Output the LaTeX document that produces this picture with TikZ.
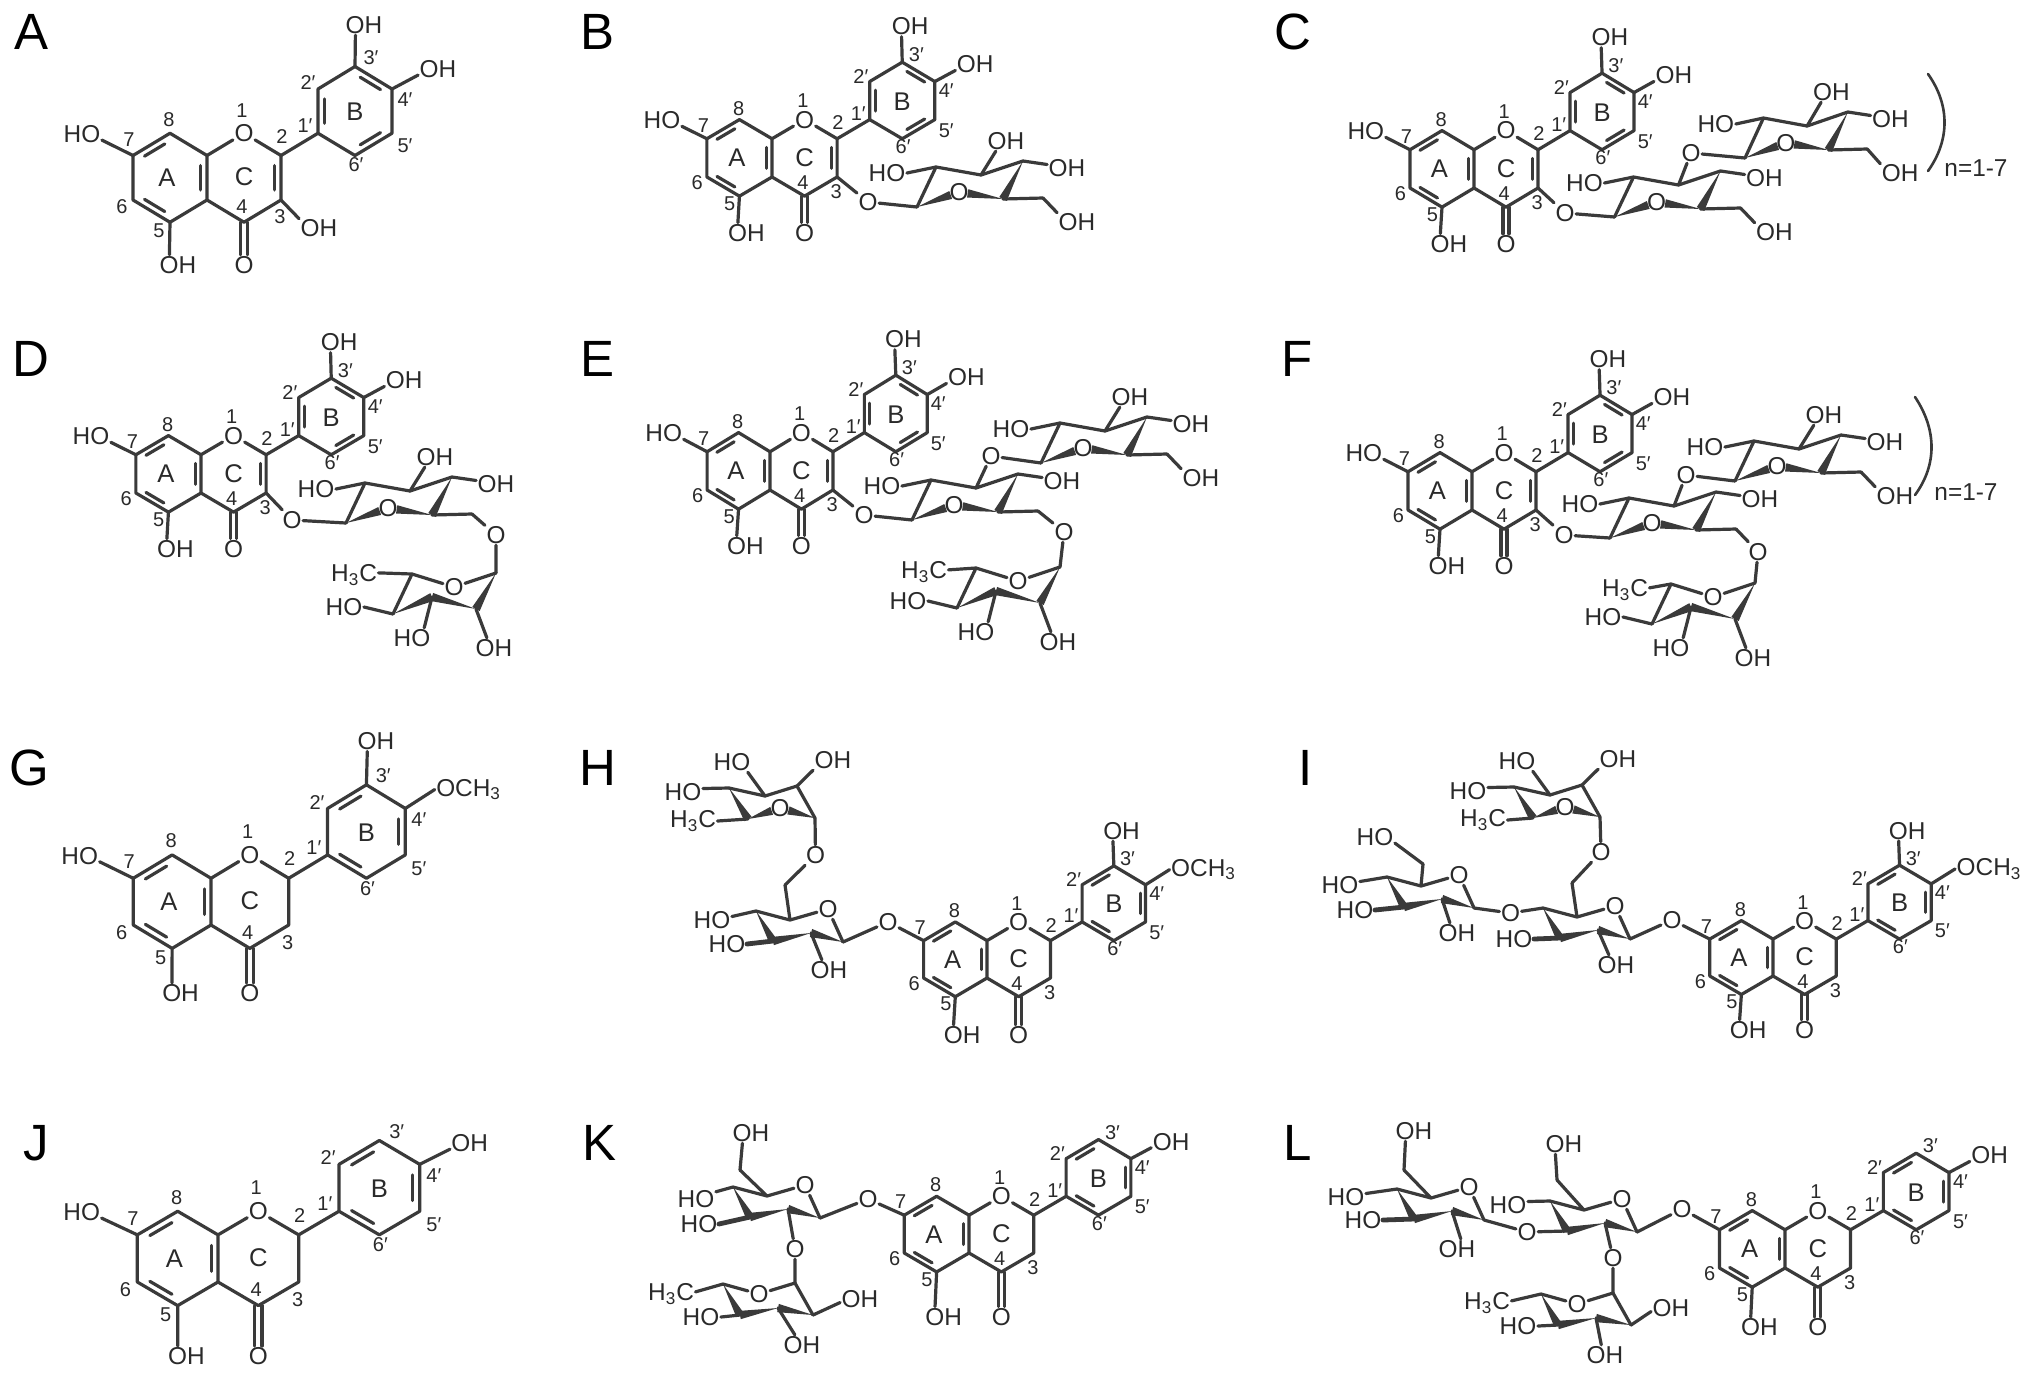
\documentclass[tikz,border=0pt]{standalone}
\usepackage{fontspec}
\setmainfont{Liberation Sans}
\usetikzlibrary{calc}
\definecolor{bondc}{HTML}{3A3A3A}
\definecolor{txtc}{HTML}{2A2A2A}
\tikzset{
 bond/.style={draw=bondc,line width=1.6pt,line cap=round,line join=round},
 thickb/.style={draw=bondc,line width=2.4pt,line cap=round},
 paren/.style={draw=bondc,line width=1.3pt,line cap=round},
 lab/.style={font=\fontsize{12.2}{14}\selectfont,text=txtc,inner sep=0.8pt,outer sep=0pt},
 num/.style={font=\fontsize{10}{11}\selectfont,text=txtc,inner sep=0pt},
 ringl/.style={font=\fontsize{12.8}{14}\selectfont,text=txtc,inner sep=0pt},
 pl/.style={font=\fontsize{25.5}{27}\selectfont,text=black,inner sep=0pt},
}
\newcommand\bd[5]{\node[lab] (#1) at (#2) {#3}; \draw[bond] (#4) -- (#1.#5);}
\newcommand\wdg[2]{\fill[bondc] (#1) -- ($(#2)!2.1pt!90:(#1)$) -- ($(#2)!2.1pt!-90:(#1)$) -- cycle;}
\newcommand\wdgO[2]{\coordinate (tmp#1) at ($(#2)!4.4pt!(#1)$); \wdg{#1}{tmp#1}}
\newcommand\dbl[3]{\draw[bond] ($(#1)!.17!(#2)!.17!(#3)$) -- ($(#2)!.17!(#1)!.17!(#3)$);}
\newcommand\lowy{65}
% flavonoid skeleton shared by all panels
\newcommand\flavgeom{%
 \coordinate (c4a) at (0,0); \coordinate (c8a) at (0,-44.5);
 \coordinate (c8) at (-37,-66.75); \coordinate (c7) at (-74,-44.5);
 \coordinate (c6) at (-74,0); \coordinate (c5) at (-37,22.25);
 \node[lab] (o1) at (37,-66.75) {O};
 \coordinate (c2) at (74,-44.5); \coordinate (c3) at (74,0); \coordinate (c4) at (37,22.25);
 \coordinate (c1p) at (111,-66.75); \coordinate (c2p) at (111,-111);
 \coordinate (c3p) at (148,-133.5); \coordinate (c4p) at (185,-111);
 \coordinate (c5p) at (185,-66.75); \coordinate (c6p) at (148,-44.5);
 \coordinate (ca) at (-37,-22.25); \coordinate (cc) at (37,-22.25); \coordinate (cb) at (148,-89);
 \draw[bond] (c4a)--(c8a)--(c8)--(c7)--(c6)--(c5)--(c4a)--(c4)--(c3)--(c2)--(o1)--(c8a);
 \draw[bond] (c2)--(c1p)--(c2p)--(c3p)--(c4p)--(c5p)--(c6p)--(c1p);
 \dbl{c7}{c8}{ca}\dbl{c5}{c6}{ca}\dbl{c4a}{c8a}{ca}
 \node[lab] (o4) at (37,\lowy) {O};
 \draw[bond] ([xshift=-1.7pt]c4) -- ([xshift=-1.7pt]o4.north);
 \draw[bond] ([xshift=1.7pt]c4) -- ([xshift=1.7pt]o4.north);
 \bd{oh5}{-29,\lowy}{OH}{c5}{130}
 \node[ringl] (la) at (-40,-22) {A}; \node[ringl] (lc) at (37,-23) {C}; \node[ringl] (lb) at (148,-88) {B};
 \node[num] (n1) at (35,-89) {1}; \node[num] (n8) at (-38,-80) {8};
 \node[num] (n7) at (-78,-60) {7}; \node[num] (n6) at (-85,7) {6};
 \node[num] (n5) at (-48,31) {5}; \node[num] (n4) at (35,7) {4};
 \node[num] (n3) at (73,17) {3}; \node[num] (n2) at (75,-63) {2};
 \node[num] (n1p) at (98,-74) {1′}; \node[num] (n2p) at (101,-117) {2′};
 \node[num] (n3p) at (164,-142) {3′}; \node[num] (n4p) at (198,-100) {4′};
 \node[num] (n5p) at (198,-54) {5′}; \node[num] (n6p) at (149,-35) {6′};
}
\newcommand\flavonol{\dbl{c2}{c3}{cc}\dbl{c1p}{c2p}{cb}\dbl{c3p}{c4p}{cb}\dbl{c5p}{c6p}{cb}}
\newcommand\flavanone{\dbl{c1p}{c6p}{cb}\dbl{c2p}{c3p}{cb}\dbl{c4p}{c5p}{cb}}
\newcommand\hoVII{\bd{ho7}{-125,-66}{HO}{c7}{343}}
\newcommand\ohIIIp{\bd{oh3p}{157,-175}{OH}{c3p}{230}}
\newcommand\ohIVp{\bd{oh4p}{231,-131}{OH}{c4p}{197}}
\newcommand\ochIVp{\node[lab,anchor=west] (och) at (213,-129) {OCH\textsubscript{3}}; \draw[bond] (c4p) -- (och.west);}
% glucose drawn to the right of its anomeric carbon
\newcommand\glcR{%
 \node[lab] (or) at (42,-15) {O};
 \coordinate (c1) at (0,0); \coordinate (c5) at (86,-8); \coordinate (c4) at (106,-46);
 \coordinate (c3) at (64,-32); \coordinate (c2) at (19,-40); \coordinate (c6) at (126,-9);
 \draw[bond] (c1)--(c2)--(c3)--(c4) (c5)--(c6);
 \wdgO{c1}{or}\wdgO{c5}{or}\wdg{c4}{c5}
 \bd{ho2}{-30,-34}{HO}{c2}{0}
}
\newcommand\glcRiii{\bd{oh3}{89,-66}{OH}{c3}{225}}
\newcommand\glcRiv{\bd{oh4}{150,-39}{OH}{c4}{170}}
\newcommand\glcRvi{\bd{oh6}{160,15}{OH}{c6}{155}}
% rhamnose below a glucose (panels D, E, F)
\newcommand\rhaD{%
 \node[lab] (or) at (-42,14) {O};
 \coordinate (c1) at (0,0); \coordinate (c5) at (-84,1); \coordinate (c4) at (-103,41);
 \coordinate (c3) at (-64,24); \coordinate (c2) at (-20,36);
 \draw[bond] (c1)--(or)--(c5)--(c4);
 \wdg{c1}{c2}\wdg{c2}{c3}\wdg{c4}{c3}
 \bd{ho4}{-152,34}{HO}{c4}{0}
 \bd{ho3}{-84,65}{HO}{c3}{40}
 \bd{oh2}{-2,75}{OH}{c2}{125}
}
% rhamnose above a glucose (panels H, I)
\newcommand\rhaU{%
 \node[lab] (or) at (-35,-10) {O};
 \coordinate (c1) at (0,0); \coordinate (c5) at (-67,1); \coordinate (c4) at (-86,-30);
 \coordinate (c3) at (-50,-22); \coordinate (c2) at (-18,-32);
 \draw[bond] (c1)--(c2)--(c3)--(c4);
 \wdg{c4}{c5}\wdgO{c5}{or}\wdgO{c1}{or}
 \bd{ho4}{-132,-26}{HO}{c4}{10}
 \bd{ho3}{-83,-56}{HO}{c3}{327}
 \bd{oh2}{18,-58}{OH}{c2}{207}
}
% rhamnose below a glucose (panels K, L)
\newcommand\rhaK{%
 \node[lab] (or) at (-36,11) {O};
 \coordinate (c1) at (0,0); \coordinate (c5) at (-72,1); \coordinate (c4) at (-55,32);
 \coordinate (c3) at (-17,25); \coordinate (c2) at (18,32);
 \draw[bond] (c1)--(c2) (c1)--(or)--(c5);
 \wdg{c5}{c4}\wdg{c3}{c4}\wdg{c2}{c3}
}
% glucose drawn to the left of its anomeric carbon; #1 is the position of C6
\newcommand\glcL[1]{%
 \node[lab] (or) at (-15,-33) {O};
 \coordinate (c1) at (0,0); \coordinate (c5) at (-53,-22); \coordinate (c4) at (-87,-31);
 \coordinate (c3) at (-70,-1); \coordinate (c2) at (-32,-9); \coordinate (c6) at (#1);
 \draw[bond] (c1)--(or)--(c5)--(c4) (c5)--(c6);
 \wdg{c4}{c3}\wdg{c2}{c3}\wdg{c1}{c2}
}
\begin{document}
\begin{tikzpicture}[x=0.5pt,y=-0.5pt]
\path[use as bounding box,fill=white] (0,0) rectangle (2032,1377);
% panel letters
\node[pl] (pA) at (32,32) {A}; \node[pl] (pB) at (597,32) {B}; \node[pl] (pC) at (1293,32) {C};
\node[pl] (pD) at (31,359) {D}; \node[pl] (pE) at (597,359) {E}; \node[pl] (pF) at (1297,359) {F};
\node[pl] (pG) at (29,768) {G}; \node[pl] (pH) at (598,768) {H}; \node[pl] (pI) at (1306,768) {I};
\node[pl] (pJ) at (36,1143) {J}; \node[pl] (pK) at (599,1143) {K}; \node[pl] (pL) at (1298,1143) {L};
% A
\begin{scope}[shift={(207,200)},name prefix=a-]
 \flavgeom\flavonol\hoVII\ohIIIp\ohIVp
 \bd{oh3}{112,28}{OH}{c3}{155}
\end{scope}
% B
\begin{scope}[shift={(772,177)},xscale=.88,yscale=.86,name prefix=b-]
 \flavgeom\flavonol\hoVII\ohIIIp\ohIVp
\end{scope}
\begin{scope}[shift={(917,207)},name prefix=bs-]
 \glcR\glcRiii\glcRiv\glcRvi
\end{scope}
\node[lab] (b-o3) at (868,202) {O};
\draw[bond] (b-c3) -- (b-o3) -- (bs-c1);
% C
\begin{scope}[shift={(1474,188)},xscale=.865,yscale=.86,name prefix=c-]
 \flavgeom\flavonol\hoVII\ohIIIp\ohIVp
\end{scope}
\begin{scope}[shift={(1614.5,217)},name prefix=cs-]
 \glcR\glcRiv\glcRvi
\end{scope}
\begin{scope}[shift={(1745,158)},xscale=.97,name prefix=ct-]
 \glcR\glcRiii\glcRiv\glcRvi
\end{scope}
\node[lab] (c-o3) at (1565,213) {O};
\node[lab] (c-ol) at (1691,153) {O};
\draw[bond] (c-c3) -- (c-o3) -- (cs-c1);
\draw[bond] (cs-c3) -- (c-ol) -- (ct-c1);
\coordinate (cpa) at (1928,74); \coordinate (cpb) at (1950,105); \coordinate (cpc) at (1950,140); \coordinate (cpd) at (1928,171);
\draw[paren] (cpa) .. controls (cpb) and (cpc) .. (cpd);
\node[lab] (cn) at (1976,168) {n=1-7};
% D
\begin{scope}[shift={(201,493)},xscale=.88,yscale=.86,name prefix=d-]
 \flavgeom\flavonol\hoVII\ohIIIp\ohIVp
\end{scope}
\begin{scope}[shift={(346,523)},name prefix=ds-]
 \glcR\glcRiii\glcRiv
\end{scope}
\begin{scope}[shift={(496,573)},name prefix=dr-]
 \rhaD
 \node[lab] (me) at (-142,2) {H\textsubscript{3}C}; \draw[bond] (c5) -- (me.5);
\end{scope}
\node[lab] (d-o3) at (292,520) {O}; \node[lab] (d-o6) at (496,535) {O};
\draw[bond] (d-c3) -- (d-o3) -- (ds-c1);
\draw[bond] (ds-c6) -- (d-o6) -- (dr-c1);
% E
\begin{scope}[shift={(770,490)},xscale=.85,yscale=.86,name prefix=e-]
 \flavgeom\flavonol\hoVII\ohIIIp\ohIVp
\end{scope}
\begin{scope}[shift={(912,520)},name prefix=es-]
 \glcR\glcRiv
\end{scope}
\begin{scope}[shift={(1041,463)},name prefix=et-]
 \glcR\glcRiii\glcRiv\glcRvi
\end{scope}
\begin{scope}[shift={(1060,567)},name prefix=er-]
 \rhaD
 \node[lab] (me) at (-136,5) {H\textsubscript{3}C}; \draw[bond] (c5) -- (me.5);
\end{scope}
\node[lab] (e-o3) at (864,515) {O}; \node[lab] (e-ol) at (991,456) {O}; \node[lab] (e-o6) at (1064,532) {O};
\draw[bond] (e-c3) -- (e-o3) -- (es-c1);
\draw[bond] (es-c3) -- (e-ol) -- (et-c1);
\draw[bond] (es-c6) -- (e-o6) -- (er-c1);
% F
\begin{scope}[shift={(1472,510)},xscale=.865,yscale=.86,name prefix=f-]
 \flavgeom\flavonol\hoVII\ohIIIp\ohIVp
\end{scope}
\begin{scope}[shift={(1610,538)},name prefix=fs-]
 \glcR\glcRiv
\end{scope}
\begin{scope}[shift={(1735,481)},name prefix=ft-]
 \glcR\glcRiii\glcRiv\glcRvi
\end{scope}
\begin{scope}[shift={(1755,583)},name prefix=fr-]
 \rhaD
 \node[lab] (me) at (-130,7) {H\textsubscript{3}C}; \draw[bond] (c5) -- (me.5);
\end{scope}
\node[lab] (f-o3) at (1564,535) {O}; \node[lab] (f-ol) at (1686,475) {O}; \node[lab] (f-o6) at (1758,552) {O};
\draw[bond] (f-c3) -- (f-o3) -- (fs-c1);
\draw[bond] (fs-c3) -- (f-ol) -- (ft-c1);
\draw[bond] (fs-c6) -- (f-o6) -- (fr-c1);
\coordinate (fpa) at (1915,397); \coordinate (fpb) at (1937,430); \coordinate (fpc) at (1937,465); \coordinate (fpd) at (1915,495);
\draw[paren] (fpa) .. controls (fpb) and (fpc) .. (fpd);
\node[lab] (fn) at (1966,492) {n=1-7};
% G
\begin{scope}[shift={(211,925)},xscale=1.05,yscale=1.05,name prefix=g-]
 \flavgeom\flavanone\hoVII\ohIIIp\ochIVp
\end{scope}
% H
\begin{scope}[shift={(987,978)},xscale=.857,yscale=.84,name prefix=h-]
 \renewcommand\lowy{68}
 \flavgeom\flavanone\ohIIIp\ochIVp
\end{scope}
\begin{scope}[shift={(843,942)},name prefix=hs-]
 \glcL{-58,-57}
 \bd{ho4}{-131,-22}{HO}{c4}{10}
 \node[lab] (ho3) at (-116,2) {HO}; \draw[thickb] (c3) -- (ho3.0);
 \bd{oh2}{-14,28}{OH}{c2}{125}
\end{scope}
\begin{scope}[shift={(815,818)},name prefix=hr-]
 \rhaU
 \node[lab] (me) at (-122,3) {H\textsubscript{3}C}; \draw[bond] (c5) -- (me.0);
\end{scope}
\node[lab] (h-o7) at (888,922) {O}; \node[lab] (h-o6) at (815.5,855) {O};
\draw[bond] (h-c7) -- (h-o7) -- (hs-c1);
\draw[bond] (hs-c6) -- (h-o6) -- (hr-c1);
% I
\begin{scope}[shift={(1773,976)},xscale=.855,yscale=.83,name prefix=i-]
 \flavgeom\flavanone\ohIIIp\ochIVp
\end{scope}
\begin{scope}[shift={(1630,939)},name prefix=is-]
 \glcL{-58,-56}
 \node[lab] (ho3) at (-116,0) {HO}; \draw[thickb] (c3) -- (ho3.0);
 \bd{oh2}{-14,26}{OH}{c2}{125}
\end{scope}
\begin{scope}[shift={(1474,908)},name prefix=it-]
 \glcL{-51,-44}
 \bd{ho4}{-134,-23}{HO}{c4}{10}
 \node[lab] (ho3) at (-119,2) {HO}; \draw[thickb] (c3) -- (ho3.0);
 \bd{oh2}{-17,25}{OH}{c2}{125}
 \bd{ho6}{-99,-71}{HO}{c6}{343}
\end{scope}
\begin{scope}[shift={(1600,817)},name prefix=ir-]
 \rhaU
 \node[lab] (me) at (-117,3) {H\textsubscript{3}C}; \draw[bond] (c5) -- (me.0);
\end{scope}
\node[lab] (i-o7) at (1672,920) {O}; \node[lab] (i-o6) at (1601,852) {O}; \node[lab] (i-ol) at (1510.5,913) {O};
\draw[bond] (i-c7) -- (i-o7) -- (is-c1);
\draw[bond] (is-c6) -- (i-o6) -- (ir-c1);
\draw[bond] (is-c4) -- (i-ol) -- (it-c1);
% J
\begin{scope}[shift={(218,1282)},xscale=1.09,yscale=1.06,name prefix=j-]
 \renewcommand\lowy{70}
 \flavgeom\flavanone\hoVII\ohIVp
\end{scope}
% K
\begin{scope}[shift={(969,1253)},xscale=.875,yscale=.85,name prefix=k-]
 \renewcommand\lowy{75}
 \flavgeom\flavanone\ohIVp
\end{scope}
\begin{scope}[shift={(820,1218)},name prefix=ks-]
 \glcL{-80,-48}
 \bd{ho4}{-124,-19}{HO}{c4}{20}
 \node[lab] (ho3) at (-121,6) {HO}; \draw[thickb] (c3) -- (ho3.0);
 \bd{oh6}{-69,-85}{OH}{c6}{230}
\end{scope}
\begin{scope}[shift={(795,1283)},name prefix=kr-]
 \rhaK
 \node[lab] (me) at (-124,11) {H\textsubscript{3}C}; \draw[bond] (c5) -- (me.5);
 \bd{ho4}{-94,34}{HO}{c4}{0}
 \bd{oh3}{7,62}{OH}{c3}{125}
 \bd{oh2}{65,16}{OH}{c2}{190}
\end{scope}
\node[lab] (k-o7) at (868,1199) {O}; \node[lab] (k-o2) at (795,1249) {O};
\draw[bond] (k-c7) -- (k-o7) -- (ks-c1);
\draw[bond] (ks-c2) -- (k-o2) -- (kr-c1);
% L
\begin{scope}[shift={(1785,1268)},xscale=.886,yscale=.86,name prefix=l-]
 \renewcommand\lowy{69}
 \flavgeom\flavanone\ohIVp
\end{scope}
\begin{scope}[shift={(1637,1232)},name prefix=ls-]
 \glcL{-80,-52}
 \bd{ho4}{-129,-27}{HO}{c4}{10}
 \bd{oh6}{-73,-88}{OH}{c6}{230}
\end{scope}
\begin{scope}[shift={(1484,1220)},name prefix=lt-]
 \glcL{-80,-50}
 \bd{ho4}{-138,-23}{HO}{c4}{10}
 \node[lab] (ho3) at (-121,0) {HO}; \draw[thickb] (c3) -- (ho3.0);
 \bd{oh2}{-27,29}{OH}{c2}{70}
 \bd{oh6}{-70,-89}{OH}{c6}{230}
\end{scope}
\begin{scope}[shift={(1613,1293)},name prefix=lr-]
 \rhaK
 \node[lab] (me) at (-126,10) {H\textsubscript{3}C}; \draw[bond] (c5) -- (me.5);
 \bd{ho4}{-95,33}{HO}{c4}{0}
 \bd{oh3}{-8,62}{OH}{c3}{110}
 \bd{oh2}{58,15}{OH}{c2}{190}
\end{scope}
\node[lab] (l-o7) at (1682,1209) {O}; \node[lab] (l-ol) at (1527,1232) {O}; \node[lab] (l-o2) at (1613,1258) {O};
\draw[bond] (l-c7) -- (l-o7) -- (ls-c1);
\draw[bond] (ls-c3) -- (l-ol) -- (lt-c1);
\draw[bond] (ls-c2) -- (l-o2) -- (lr-c1);
\end{tikzpicture}
\end{document}
